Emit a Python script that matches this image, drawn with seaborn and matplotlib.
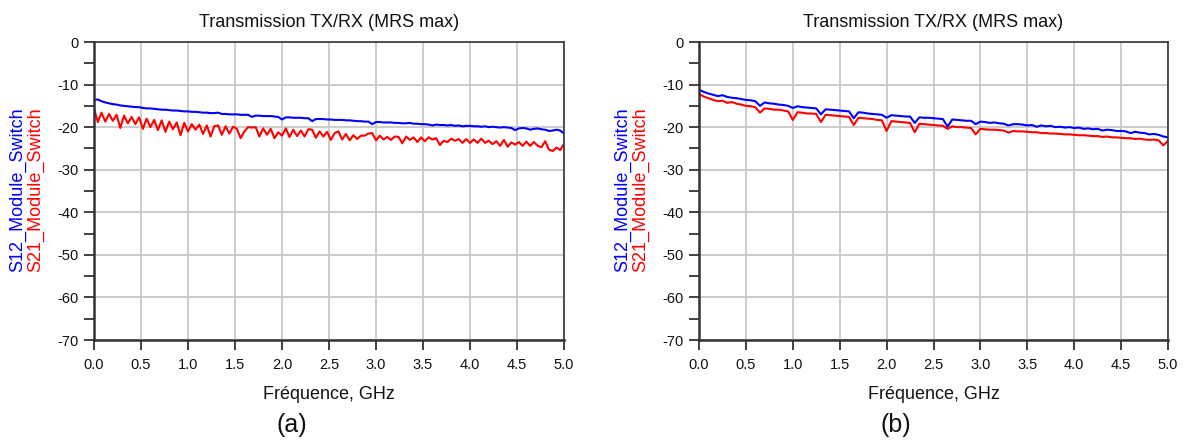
import numpy as np
import pandas as pd
import matplotlib
matplotlib.use("Agg")
from matplotlib import pyplot as plt
from matplotlib.ticker import MultipleLocator, FormatStrFormatter
import seaborn as sns

# panel (a): frequency sweep every 0.04 GHz
freq_a = np.round(np.arange(0, 5.0001, 0.04), 2)
s12_a = [
    -13.6, -13.5, -13.9, -14.2, -14.4, -14.6, -14.7, -14.9, -15.0, -15.1,
    -15.2, -15.3, -15.3, -15.5, -15.6, -15.6, -15.7, -15.8, -15.9, -15.9,
    -16.0, -16.1, -16.1, -16.2, -16.3, -16.3, -16.4, -16.4, -16.5, -16.6,
    -16.6, -16.7, -16.7, -16.6, -16.9, -16.9, -17.0, -17.0, -17.0, -17.1,
    -17.1, -17.1, -17.6, -17.3, -17.3, -17.4, -17.4, -17.4, -17.5, -17.6,
    -18.2, -17.7, -17.7, -17.8, -17.8, -17.8, -17.9, -17.9, -18.6, -18.1,
    -18.1, -18.1, -18.2, -18.2, -18.3, -18.3, -18.3, -18.4, -18.4, -18.5,
    -18.6, -18.6, -18.7, -18.7, -19.3, -18.8, -18.8, -18.9, -18.9, -18.9,
    -19.0, -19.0, -19.1, -19.1, -19.0, -19.2, -19.2, -19.3, -19.3, -19.4,
    -19.6, -19.4, -19.5, -19.5, -19.6, -19.5, -19.7, -19.6, -19.8, -19.7,
    -19.7, -19.8, -19.8, -19.9, -19.8, -20.0, -19.9, -20.0, -20.1, -20.0,
    -20.1, -20.2, -20.7, -20.3, -20.2, -20.3, -20.6, -20.4, -20.3, -20.5,
    -20.6, -20.9, -20.8, -20.6, -20.8, -21.5]
s21_a = [
    -15.6, -18.8, -16.6, -18.7, -16.9, -18.5, -17.1, -20.2, -17.3, -19.1,
    -17.6, -19.3, -17.7, -20.4, -18.0, -20.0, -18.3, -20.7, -18.4, -21.1,
    -18.7, -20.5, -18.9, -21.9, -19.0, -21.0, -19.3, -20.6, -19.4, -21.6,
    -19.6, -22.2, -19.8, -19.6, -21.8, -19.8, -21.5, -19.9, -20.4, -22.6,
    -21.0, -20.0, -20.1, -20.0, -22.2, -20.3, -21.8, -20.4, -22.6, -21.2,
    -22.0, -20.3, -22.3, -20.6, -22.1, -20.8, -22.2, -20.5, -20.6, -22.5,
    -21.0, -22.2, -21.1, -23.0, -21.4, -21.0, -22.9, -21.6, -23.1, -21.9,
    -22.8, -22.0, -22.0, -21.5, -21.4, -23.1, -22.0, -22.9, -22.3, -23.0,
    -22.2, -22.3, -23.8, -22.2, -23.0, -22.4, -23.5, -22.4, -23.3, -22.4,
    -22.9, -22.6, -24.2, -23.2, -23.5, -22.7, -23.2, -22.8, -23.7, -22.8,
    -23.7, -22.9, -23.7, -22.7, -23.7, -23.2, -24.0, -23.3, -24.4, -23.0,
    -24.6, -23.6, -24.1, -23.5, -24.4, -23.4, -24.4, -23.5, -24.4, -24.7,
    -23.3, -25.3, -25.6, -24.8, -25.4, -23.9]

# panel (b): frequency sweep every 0.05 GHz
freq_b = np.round(np.arange(0, 5.0001, 0.05), 2)
s12_b = [
    -11.2, -11.7, -12.1, -12.4, -12.7, -12.5, -12.9, -13.1, -13.2, -13.4,
    -13.6, -13.7, -13.9, -15.0, -14.2, -14.4, -14.5, -14.7, -14.8, -15.0,
    -15.5, -15.1, -15.3, -15.4, -15.5, -15.6, -17.0, -15.8, -15.9, -16.0,
    -16.1, -16.2, -16.3, -17.9, -16.5, -16.6, -16.8, -16.9, -17.0, -17.1,
    -17.8, -17.2, -17.3, -17.4, -17.5, -17.5, -19.0, -17.7, -17.8, -17.8,
    -17.9, -18.0, -18.1, -19.9, -18.2, -18.3, -18.4, -18.5, -18.5, -19.3,
    -18.7, -18.8, -19.0, -18.9, -19.1, -19.2, -19.6, -19.3, -19.3, -19.4,
    -19.6, -19.5, -19.9, -19.6, -19.8, -19.7, -20.0, -19.9, -20.1, -20.0,
    -20.2, -20.1, -20.4, -20.3, -20.5, -20.4, -20.8, -20.6, -20.7, -20.9,
    -20.9, -21.0, -21.4, -21.1, -21.3, -21.4, -21.7, -21.6, -21.8, -22.2,
    -22.4]
s21_b = [
    -12.2, -12.8, -13.2, -13.6, -13.9, -13.8, -14.3, -14.1, -14.5, -14.7,
    -15.0, -15.1, -15.3, -16.6, -15.6, -15.7, -15.9, -15.9, -16.1, -16.3,
    -18.3, -16.5, -16.6, -16.8, -16.8, -16.9, -18.8, -17.1, -17.2, -17.3,
    -17.4, -17.5, -17.6, -19.5, -17.8, -17.9, -18.0, -18.1, -18.3, -18.4,
    -20.9, -18.6, -18.7, -18.8, -18.9, -19.0, -21.2, -19.2, -19.3, -19.4,
    -19.5, -19.6, -19.7, -20.4, -19.8, -20.0, -20.0, -20.1, -20.2, -21.7,
    -20.4, -20.5, -20.6, -20.6, -20.7, -20.8, -21.3, -20.9, -21.0, -21.0,
    -21.1, -21.2, -21.2, -21.4, -21.4, -21.5, -21.5, -21.6, -21.7, -21.7,
    -21.8, -21.9, -21.9, -22.0, -22.1, -22.1, -22.3, -22.2, -22.4, -22.4,
    -22.5, -22.6, -22.6, -22.8, -22.7, -22.9, -23.0, -22.9, -23.1, -24.3,
    -23.2]

series_names = ["S12_Module_Switch", "S21_Module_Switch"]
series_colors = ["#0000ff", "#ff0000"]
title = "Transmission TX/RX (MRS max)"
xlabel = "Fréquence, GHz"
tags = ["(a)", "(b)"]

sns.set_theme(style="white")
plt.rcParams["font.family"] = ["Liberation Sans", "DejaVu Sans"]
plt.rcParams["axes.unicode_minus"] = False


def draw_panel(fig, rect, freq, s12, s21, tag, tag_x, lab_x):
    ax = fig.add_axes(rect)
    df = pd.concat([
        pd.DataFrame({"f": freq, "dB": s12, "trace": series_names[0]}),
        pd.DataFrame({"f": freq, "dB": s21, "trace": series_names[1]}),
    ])
    sns.lineplot(data=df, x="f", y="dB", hue="trace", palette=series_colors,
                 linewidth=1.5, legend=False, ax=ax)
    ax.set_xlim(0, 5)
    ax.set_ylim(-70, 0)
    ax.xaxis.set_major_locator(MultipleLocator(0.5))
    ax.xaxis.set_major_formatter(FormatStrFormatter("%.1f"))
    ax.yaxis.set_major_locator(MultipleLocator(10))
    ax.yaxis.set_minor_locator(MultipleLocator(5))
    ax.grid(True, which="major", color="#c8c8c8", linewidth=1.3)
    ax.set_axisbelow(True)
    ax.tick_params(which="both", direction="out", length=7, width=1.3,
                   color="#333333", labelsize=10.5, pad=4,
                   labelcolor="#111111", bottom=True, left=True,
                   top=False, right=False)
    ax.tick_params(axis="x", pad=6)
    for side in ["left", "bottom"]:
        ax.spines[side].set_color("#333333")
        ax.spines[side].set_linewidth(1.8)
    for side in ["top", "right"]:
        ax.spines[side].set_color("#333333")
        ax.spines[side].set_linewidth(1.2)
    ax.set_title(title, fontsize=13, pad=11, color="#111111")
    ax.set_xlabel(xlabel, fontsize=13, labelpad=10, color="#111111")
    ax.set_ylabel("")
    for i, (name, col) in enumerate(zip(series_names, series_colors)):
        fig.text(lab_x + i * 18 / 1184, 1 - 272 / 441, name, color=col,
                 fontsize=13, rotation=90, ha="center", va="bottom")
    fig.text(tag_x, 1 - 425 / 441, tag, fontsize=18, ha="center", va="center",
             color="#111111")
    return ax


fig = plt.figure(figsize=(11.84, 4.41), dpi=100)
fig.patch.set_facecolor("white")
bottom = 1 - 340 / 441
height = (340 - 42) / 441
draw_panel(fig, [94 / 1184, bottom, 470 / 1184, height],
           freq_a, s12_a, s21_a, tags[0], 292 / 1184, 18 / 1184)
draw_panel(fig, [699 / 1184, bottom, 469 / 1184, height],
           freq_b, s12_b, s21_b, tags[1], 896 / 1184, 623 / 1184)

fig.savefig("out.png", dpi=100)
